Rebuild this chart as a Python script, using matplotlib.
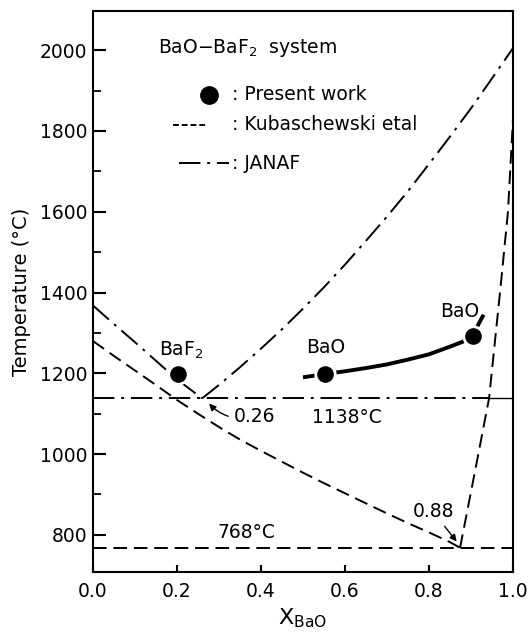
import matplotlib
matplotlib.use("Agg")
import matplotlib.pyplot as plt
import numpy as np

# Present work: measured liquidus points and the fitted BaO-side curve
pw_x = [0.202, 0.552, 0.905]
pw_t = [1198, 1198, 1292]
pw_curve_x = [0.50, 0.552, 0.60, 0.65, 0.70, 0.75, 0.80, 0.85, 0.88, 0.905, 0.917, 0.93]
pw_curve_t = [1190, 1198, 1205, 1213, 1222, 1234, 1247, 1266, 1278, 1292, 1320, 1345]

# Kubaschewski et al. liquidus (eutectic at 0.88, 768 C)
kub_left_x = [0.0, 0.05, 0.10, 0.15, 0.20, 0.25, 0.30, 0.35, 0.40, 0.45, 0.50,
              0.55, 0.60, 0.65, 0.70, 0.75, 0.80, 0.85, 0.874]
kub_left_t = [1280, 1243, 1207, 1171, 1134, 1100, 1067, 1036, 1008, 981, 954,
              928, 903, 878, 853, 829, 806, 782, 768]
kub_right_x = [0.874, 0.91, 0.943, 0.971, 0.988, 1.0]
kub_right_t = [768, 960, 1138, 1420, 1600, 1830]
kub_eut_t = 768

# JANAF liquidus (eutectic at 0.26, 1138 C)
jan_left_x = [0.0, 0.05, 0.10, 0.15, 0.20, 0.26]
jan_left_t = [1368, 1322, 1277, 1231, 1185, 1138]
jan_right_x = [0.26, 0.30, 0.35, 0.40, 0.45, 0.50, 0.55, 0.60, 0.65, 0.70,
               0.75, 0.80, 0.85, 0.90, 0.95, 1.00]
jan_right_t = [1138, 1171, 1215, 1261, 1309, 1360, 1413, 1469, 1528, 1588,
               1651, 1718, 1786, 1856, 1930, 2005]
jan_eut_t = 1138
jan_eut_end = 0.943

plt.rcParams['font.family'] = ['DejaVu Sans']
plt.rcParams['mathtext.default'] = 'regular'

fig = plt.figure(figsize=(5.28, 6.38), dpi=100)
ax = fig.add_axes([0.176, 0.1034, 0.7956, 0.8794])

dash = (0, (7, 3.5))
dashdot = (0, (11, 3.5, 1.5, 3.5))
lw = 1.4

# Kubaschewski curves
ax.plot(kub_left_x, kub_left_t, color='black', lw=lw, linestyle=dash)
ax.plot(kub_right_x, kub_right_t, color='black', lw=lw, linestyle=dash)
ax.plot([0.0, 1.0], [kub_eut_t, kub_eut_t], color='black', lw=lw, linestyle=dash)

# JANAF curves
ax.plot(jan_left_x, jan_left_t, color='black', lw=lw, linestyle=dashdot)
ax.plot(jan_right_x, jan_right_t, color='black', lw=lw, linestyle=dashdot)
ax.plot([0.0, jan_eut_end], [jan_eut_t, jan_eut_t], color='black', lw=lw, linestyle=dashdot)
ax.plot([jan_eut_end, 1.0], [jan_eut_t, jan_eut_t], color='black', lw=1.0)

# present work
ax.plot(pw_curve_x, pw_curve_t, color='black', lw=2.8, solid_capstyle='butt')
ax.plot(pw_x, pw_t, 'o', color='black', markersize=14,
        markeredgecolor='white', markeredgewidth=2.0, zorder=5)

# legend drawn by hand
ax.text(0.155, 2005, r'BaO$-$BaF$_2$  system', fontsize=13.5, va='center', ha='left')
ax.plot([0.276], [1889], 'o', color='black', markersize=12.5)
ax.text(0.33, 1889, ': Present work', fontsize=13.5, va='center', ha='left')
ax.plot([0.19, 0.275], [1815, 1815], color='black', lw=lw, linestyle=(0, (3, 1.5)))
ax.text(0.33, 1815, ': Kubaschewski etal', fontsize=13.5, va='center', ha='left')
ax.plot([0.205, 0.325], [1720, 1720], color='black', lw=lw, linestyle=dashdot)
ax.text(0.33, 1720, ': JANAF', fontsize=13.5, va='center', ha='left')

# labels on the diagram
ax.text(0.21, 1258, r'BaF$_2$', fontsize=13.5, ha='center', va='center')
ax.text(0.555, 1263, 'BaO', fontsize=13.5, ha='center', va='center')
ax.text(0.872, 1352, 'BaO', fontsize=13.5, ha='center', va='center')
ax.text(0.605, 1090, '1138°C', fontsize=13.5, ha='center', va='center')
ax.text(0.365, 807, '768°C', fontsize=13.5, ha='center', va='center')

ax.annotate('0.26', xy=(0.272, 1130), xytext=(0.335, 1092),
            fontsize=13.5, ha='left', va='center',
            arrowprops=dict(arrowstyle='-|>', color='black', lw=1.0,
                            connectionstyle='arc3,rad=-0.3', mutation_scale=10))
ax.annotate('0.88', xy=(0.870, 778), xytext=(0.81, 857),
            fontsize=13.5, ha='center', va='center',
            arrowprops=dict(arrowstyle='-|>', color='black', lw=1.0,
                            mutation_scale=10, shrinkA=2))

ax.set_xlim(0.0, 1.0)
ax.set_ylim(708, 2097)
ax.set_xticks(np.arange(0.0, 1.01, 0.2))
ax.set_xticklabels(['0.0', '0.2', '0.4', '0.6', '0.8', '1.0'])
ax.set_yticks(np.arange(800, 2001, 200))
ax.set_yticks(np.arange(900, 2001, 200), minor=True)
ax.tick_params(axis='both', which='major', direction='in', labelsize=13.5, width=1.5)
ax.tick_params(axis='y', which='major', length=9, pad=4)
ax.tick_params(axis='y', which='minor', direction='in', length=6, width=1.3)
ax.tick_params(axis='x', which='major', length=5, pad=7)
for s in ax.spines.values():
    s.set_linewidth(1.5)

ax.set_ylabel('Temperature (°C)', fontsize=14, labelpad=6)
ax.set_xlabel(r'X$_{BaO}$', fontsize=16, labelpad=4)

fig.savefig('out.png', dpi=100)
